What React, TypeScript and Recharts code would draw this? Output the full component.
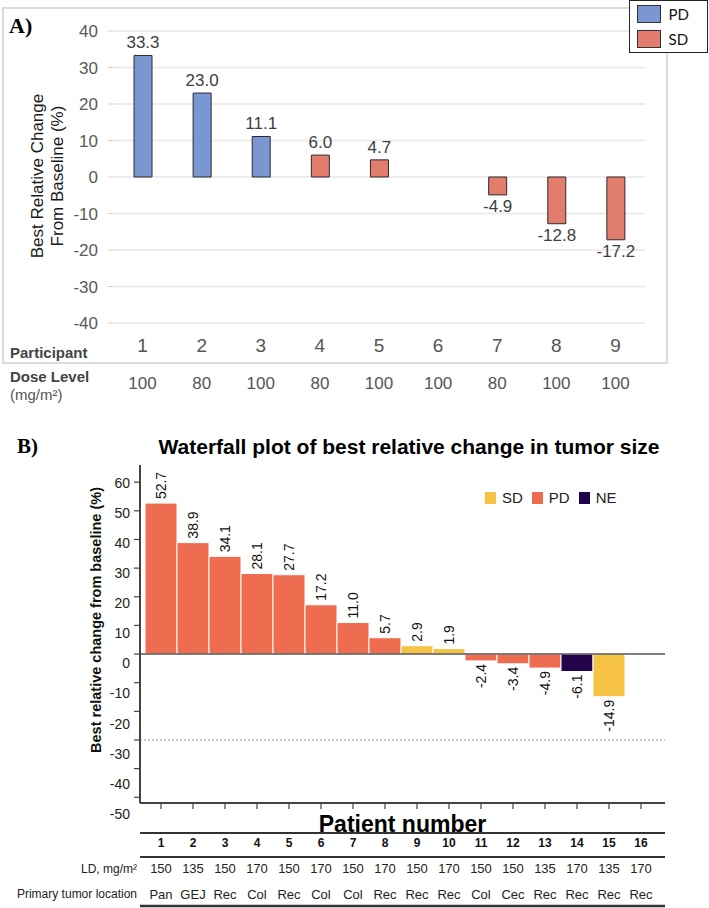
import {
  BarChart,
  Bar,
  XAxis,
  YAxis,
  CartesianGrid,
  Cell,
  LabelList,
  Legend,
  ReferenceLine,
} from 'recharts';

const SANS = '"Liberation Sans", Arial, Helvetica, sans-serif';
const NARROW = '"Liberation Sans Narrow", "Arial Narrow", "Liberation Sans", sans-serif';
const SERIF = '"Liberation Serif", "Times New Roman", serif';

// Panel A: dose-escalation participants
const participants = ['1', '2', '3', '4', '5', '6', '7', '8', '9'];
const doseLevels = ['100', '80', '100', '80', '100', '100', '80', '100', '100'];
const bestChangeA = [33.3, 23.0, 11.1, 6.0, 4.7, 0.0, -4.9, -12.8, -17.2];
const responseA = ['PD', 'PD', 'PD', 'SD', 'SD', 'SD', 'SD', 'SD', 'SD'];
const yTicksA = [-40, -30, -20, -10, 0, 10, 20, 30, 40];
const legendA = ['PD', 'SD'];

// Panel B: waterfall by patient
const patients = ['1', '2', '3', '4', '5', '6', '7', '8', '9', '10', '11', '12', '13', '14', '15', '16'];
const ldDoses = ['150', '135', '150', '170', '150', '170', '150', '170', '150', '170', '150', '150', '135', '170', '135', '170'];
const tumorSites = ['Pan', 'GEJ', 'Rec', 'Col', 'Rec', 'Col', 'Col', 'Rec', 'Rec', 'Rec', 'Col', 'Cec', 'Rec', 'Rec', 'Rec', 'Rec'];
const bestChangeB = [52.7, 38.9, 34.1, 28.1, 27.7, 17.2, 11.0, 5.7, 2.9, 1.9, -2.4, -3.4, -4.9, -6.1, -14.9, null];
const responseB = ['PD', 'PD', 'PD', 'PD', 'PD', 'PD', 'PD', 'PD', 'SD', 'SD', 'PD', 'PD', 'PD', 'NE', 'SD', ''];
const yTicksB = [-50, -40, -30, -20, -10, 0, 10, 20, 30, 40, 50, 60];
const legendB = ['SD', 'PD', 'NE'];

const COLORS_A: Record<string, string> = { PD: '#7b97d1', SD: '#e27c6d' };
const COLORS_B: Record<string, string> = { SD: '#f6c244', PD: '#ee6c4f', NE: '#22034c' };

const dataA = participants.map((p, i) => ({
  participant: p,
  dose: doseLevels[i],
  change: bestChangeA[i],
  response: responseA[i],
}));

const dataB = patients.map((p, i) => ({
  patient: p,
  ld: ldDoses[i],
  site: tumorSites[i],
  change: bestChangeB[i],
  response: responseB[i],
}));

function barBox(props: any) {
  const vb = props.viewBox ?? props;
  const { x, y, width, height } = vb;
  return {
    cx: x + width / 2,
    top: Math.min(y, y + height),
    bottom: Math.max(y, y + height),
  };
}

function valueLabelA(props: any) {
  const { value } = props;
  if (value == null) return null;
  const { cx, top, bottom } = barBox(props);
  const y = value >= 0 ? top - 7 : bottom + 17;
  return (
    <text x={cx} y={y} textAnchor="middle" fontSize={17} fontFamily={SANS} fill="#404040">
      {Number(value).toFixed(1)}
    </text>
  );
}

// vertical labels sit just past the end of each bar
function valueLabelB(props: any) {
  const { value } = props;
  if (value == null) return null;
  const { cx, top, bottom } = barBox(props);
  const y = value >= 0 ? top - 4 : bottom + 3;
  return (
    <text
      x={cx}
      y={y}
      transform={`rotate(-90 ${cx} ${y})`}
      textAnchor={value >= 0 ? 'start' : 'end'}
      dominantBaseline="central"
      fontSize={14}
      fontFamily={SANS}
      fill="#111"
    >
      {Number(value).toFixed(1)}
    </text>
  );
}

function yTickB(props: any) {
  const { x, y, payload } = props;
  const v = payload.value as number;
  // the printed labels creep downward along the axis
  const dy = 1 + (60 - v) * 0.14;
  return (
    <text x={x} y={y + dy} textAnchor="end" dominantBaseline="central" fontSize={14} fontFamily={SANS} fill="#222">
      {v}
    </text>
  );
}

function LegendA() {
  return (
    <div
      style={{
        width: 79,
        height: 53,
        border: '1.5px solid #222',
        background: '#fff',
        boxSizing: 'border-box',
        paddingLeft: 6.5,
      }}
    >
      {legendA.map((k) => (
        <div key={k} style={{ display: 'flex', alignItems: 'center', height: 25 }}>
          <span
            style={{
              display: 'inline-block',
              width: 24,
              height: 18,
              background: COLORS_A[k],
              border: '1.3px solid #333',
              boxSizing: 'border-box',
            }}
          />
          <span style={{ marginLeft: 8, fontSize: 15, fontFamily: 'Lato, sans-serif', color: '#111' }}>{k}</span>
        </div>
      ))}
    </div>
  );
}

function LegendB() {
  return (
    <div style={{ display: 'flex', alignItems: 'center', fontFamily: NARROW, fontSize: 15, color: '#222' }}>
      {legendB.map((k) => (
        <div key={k} style={{ display: 'flex', alignItems: 'center', marginRight: 9 }}>
          <span style={{ display: 'inline-block', width: 11, height: 12, background: COLORS_B[k] }} />
          <span style={{ marginLeft: 6 }}>{k}</span>
        </div>
      ))}
    </div>
  );
}

export default function App() {
  return (
    <div style={{ position: 'absolute', left: 0, top: 0, width: 709, height: 908, background: '#fff', overflow: 'hidden' }}>
      {/* panel A frame */}
      <div
        style={{
          position: 'absolute',
          left: 2,
          top: 7,
          width: 666,
          height: 357,
          border: '2px solid #dcdcdc',
          boxSizing: 'border-box',
        }}
      />

      <div style={{ position: 'absolute', left: 0, top: 0 }}>
        <BarChart width={709} height={400} data={dataA} margin={{ top: 31, right: 64, bottom: 2, left: 0 }}>
          <CartesianGrid vertical={false} stroke="#ececec" strokeWidth={2} />
          <YAxis
            width={113}
            domain={[-40, 40]}
            ticks={yTicksA}
            axisLine={false}
            tickLine={{ stroke: '#cfcfcf' }}
            tickSize={5}
            tickMargin={10}
            tick={{ fontSize: 17, fill: '#595959', fontFamily: SANS }}
          />
          <XAxis
            dataKey="participant"
            height={41}
            interval={0}
            axisLine={false}
            tickLine={false}
            tickSize={6}
            tickMargin={10}
            tick={{ fontSize: 19, fill: '#555', fontFamily: SANS }}
          />
          <XAxis
            xAxisId="dose"
            dataKey="dose"
            height={34}
            interval={0}
            axisLine={false}
            tickLine={false}
            tickSize={6}
            tickMargin={7}
            tick={{ fontSize: 17, fill: '#555', fontFamily: SANS }}
          />
          <Bar dataKey="change" barSize={18} isAnimationActive={false}>
            {dataA.map((d, i) => (
              <Cell
                key={`a-${i}`}
                fill={COLORS_A[d.response]}
                stroke={d.change === 0 ? 'none' : '#2b2b2b'}
                strokeWidth={1}
              />
            ))}
            <LabelList dataKey="change" content={valueLabelA} />
          </Bar>
          <Legend
            layout="vertical"
            align="center"
            verticalAlign="middle"
            wrapperStyle={{ top: 0, left: 629, width: 79 }}
            content={() => <LegendA />}
          />
        </BarChart>
      </div>

      <div style={{ position: 'absolute', left: 0, top: 440 }}>
        <BarChart
          width={709}
          height={468}
          data={dataB}
          margin={{ top: 25, right: 44, bottom: 0, left: 0 }}
          barCategoryGap={0}
        >
          <YAxis
            width={140}
            domain={[-52, 66]}
            ticks={yTicksB}
            axisLine={{ stroke: '#444', strokeWidth: 2 }}
            tickLine={{ stroke: '#444', strokeWidth: 1.2 }}
            tickSize={6}
            tickMargin={4}
            tick={yTickB}
          />
          <XAxis
            dataKey="patient"
            height={30}
            interval={0}
            padding={{ left: 5, right: 8 }}
            axisLine={{ stroke: '#444', strokeWidth: 2 }}
            tickLine={{ stroke: '#444', strokeWidth: 1.2 }}
            tickSize={6}
            tick={() => <g />}
            label={{
              value: 'Patient number',
              position: 'insideBottom',
              offset: 1,
              fontSize: 23,
              fontWeight: 700,
              fill: '#000',
              fontFamily: SANS,
            }}
          />
          {/* table rows under the plot; ids sort in stacking order */}
          <XAxis
            xAxisId="a_num"
            dataKey="patient"
            height={24}
            interval={0}
            padding={{ left: 5, right: 8 }}
            axisLine={{ stroke: '#333', strokeWidth: 2 }}
            tickLine={false}
            tickSize={0}
            tickMargin={5}
            tick={{ fontSize: 12, fontWeight: 700, fill: '#111', fontFamily: NARROW }}
          />
          <XAxis
            xAxisId="b_ld"
            dataKey="ld"
            height={24}
            interval={0}
            padding={{ left: 5, right: 8 }}
            axisLine={{ stroke: '#333', strokeWidth: 2 }}
            tickLine={false}
            tickSize={0}
            tickMargin={7}
            tick={{ fontSize: 13, fill: '#222', fontFamily: NARROW }}
            label={{ value: 'LD, mg/m²', position: 'left', offset: 3, fontSize: 12, fill: '#222', fontFamily: NARROW }}
          />
          <XAxis
            xAxisId="c_site"
            dataKey="site"
            height={25}
            interval={0}
            padding={{ left: 5, right: 8 }}
            axisLine={false}
            tickLine={false}
            tickSize={0}
            tickMargin={9}
            tick={{ fontSize: 13, fill: '#222', fontFamily: NARROW }}
            label={{
              value: 'Primary tumor location',
              position: 'left',
              offset: 3,
              fontSize: 12,
              fill: '#222',
              fontFamily: NARROW,
            }}
          />
          <XAxis
            xAxisId="d_end"
            dataKey="patient"
            height={2}
            padding={{ left: 5, right: 8 }}
            axisLine={{ stroke: '#333', strokeWidth: 2.5 }}
            tickLine={false}
            tick={false}
          />
          <ReferenceLine y={-30} stroke="#c9c9c9" strokeWidth={2} strokeDasharray="2 2" />
          <ReferenceLine y={0} stroke="#555" strokeWidth={1.5} />
          <Bar dataKey="change" stroke="#fff" strokeWidth={1} isAnimationActive={false}>
            {dataB.map((d, i) => (
              <Cell key={`b-${i}`} fill={COLORS_B[d.response] ?? '#ccc'} />
            ))}
            <LabelList dataKey="change" content={valueLabelB} />
          </Bar>
          <Legend
            layout="vertical"
            align="center"
            verticalAlign="middle"
            wrapperStyle={{ top: 49, left: 485, width: 160 }}
            content={() => <LegendB />}
          />
        </BarChart>
      </div>

      {/* titles and row headers */}
      <svg
        width={709}
        height={908}
        style={{ position: 'absolute', left: 0, top: 0, pointerEvents: 'none' }}
      >
        <text x={9} y={33} fontFamily={SERIF} fontWeight={700} fontSize={22} fill="#000">
          A)
        </text>
        <g fontFamily={SANS} fontSize={17} fill="#1a1a1a" textAnchor="middle" dominantBaseline="central">
          <text x={37} y={176} transform="rotate(-90 37 176)">
            Best Relative Change
          </text>
          <text x={57} y={176} transform="rotate(-90 57 176)">
            From Baseline (%)
          </text>
        </g>
        <g fontFamily={SANS} fontSize={15} dominantBaseline="central">
          <text x={10} y={352} fontWeight={700} fill="#444">
            Participant
          </text>
          <text x={10} y={376} fontWeight={700} fill="#444">
            Dose Level
          </text>
          <text x={10} y={394} fill="#555">
            (mg/m²)
          </text>
        </g>
        <text x={17} y={453} fontFamily={SERIF} fontWeight={700} fontSize={21} fill="#000">
          B)
        </text>
        <text
          x={409}
          y={446}
          textAnchor="middle"
          dominantBaseline="central"
          fontFamily={SANS}
          fontWeight={700}
          fontSize={21}
          fill="#000"
        >
          Waterfall plot of best relative change in tumor size
        </text>
        <text
          x={96}
          y={620}
          transform="rotate(-90 96 620)"
          textAnchor="middle"
          dominantBaseline="central"
          fontFamily={SANS}
          fontWeight={700}
          fontSize={14.5}
          fill="#111"
        >
          Best relative change from baseline (%)
        </text>
      </svg>
    </div>
  );
}
